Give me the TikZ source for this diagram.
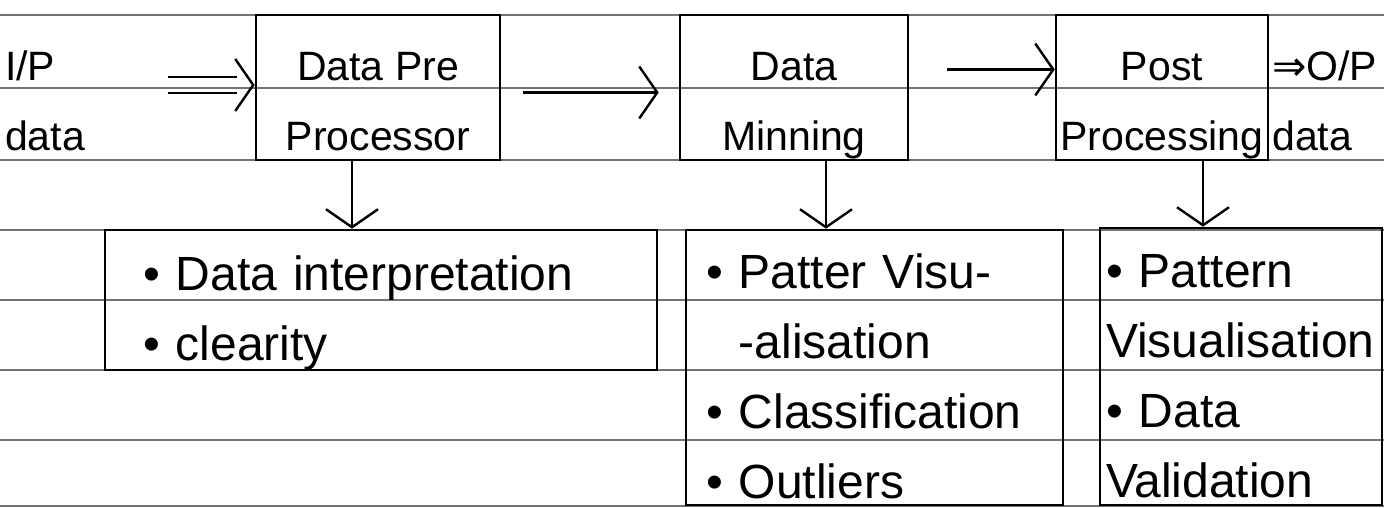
\documentclass[tikz,border=0pt]{standalone}
\usepackage{fontspec}
\setmainfont{Liberation Sans}
\newfontfamily\arrowfont{DejaVu Sans}
\usetikzlibrary{arrows.meta,positioning}

\newcommand\lift[1]{\rule{0pt}{#1}}
\newcommand\sink[1]{\rule[-#1]{0pt}{#1}}
\hyphenpenalty=10000

\begin{document}
\begin{tikzpicture}[x=1pt,y=-1pt,
  every node/.style={font=\fontsize{48}{70}\selectfont},
  toprow/.style={font=\fontsize{41}{70}\selectfont},
  stage/.style={toprow,draw,line width=2.6pt,minimum height=145pt,inner sep=0pt,align=center},
  notes/.style={draw,line width=2.6pt,inner ysep=0pt,align=left},
  flow/.style={line width=2.4pt,-{Straight Barb[length=18pt,width=52pt,line width=2.4pt]}},
  rule/.style={black!55,line width=1.2pt}]

  \useasboundingbox (0,0) rectangle (1384,508);

  % ruled paper
  \foreach \y in {15,88,160,230,300,370,440,506}
    \draw[rule] (0,\y) -- (1384,\y);

  % top row
  \node[toprow,align=left,anchor=west,inner sep=0pt] (ip) at (5,87.5) {\lift{65pt}I/P\\data\sink{10pt}};
  \node[stage,minimum width=244pt] (pre) at (378,87.5) {\lift{65pt}Data Pre\\Processor\sink{10pt}};
  \node[stage,minimum width=228pt] (mine) at (794,87.5) {\lift{65pt}Data\\Minning\sink{10pt}};
  \node[stage,minimum width=212pt] (post) at (1162,87.5) {\lift{65pt}Post\\Processing\sink{10pt}};
  \node[toprow,align=left,anchor=west,inner sep=0pt] (op) at (1272,87.5) {\lift{65pt}{\arrowfont ⇒}O/P\\data\sink{10pt}};

  % bottom row
  \node[notes,minimum width=552pt,minimum height=140pt,inner xsep=38pt,text width=476pt]
    (prenotes) at (381,300) {\lift{60pt}\textbullet\ Data interpretation\\\textbullet\ clearity\sink{10pt}};
  \node[notes,minimum width=377pt,minimum height=275pt,inner xsep=20pt,text width=337pt]
    (minenotes) at (874.5,367.5) {\lift{58pt}\textbullet\ Patter Visu-\\\phantom{\textbullet\ }-alisation\\\textbullet\ Classification\\\textbullet\ Outliers\sink{7pt}};
  \node[notes,minimum width=282pt,minimum height=277pt,inner xsep=6pt,text width=270pt]
    (postnotes) at (1241,366.5) {\lift{58pt}\textbullet\ Pattern\\Visualisation\\\textbullet\ Data\\Validation\sink{7pt}};

  % input arrow
  \coordinate (ipout) at (168,85);
  \draw[line width=2.4pt] ([yshift=8pt]ipout) -- ([yshift=8pt,xshift=-18pt]pre.west |- ipout)
    ([yshift=-8pt]ipout) -- ([yshift=-8pt,xshift=-18pt]pre.west |- ipout);
  \draw[flow] ([xshift=-2pt]pre.west |- ipout) -- (pre.west |- ipout);

  % flow between stages
  \draw[flow,shorten <=22pt,shorten >=20pt] ([yshift=-5pt]pre.east) -- ([yshift=-5pt]mine.west);
  \draw[flow,shorten <=38pt] ([yshift=18pt]mine.east) -- ([yshift=18pt]post.west);

  % down to the notes
  \draw[flow] ([xshift=-26pt]pre.south) -- ([xshift=-26pt]pre.south |- prenotes.north);
  \draw[flow] ([xshift=32pt]mine.south) -- ([xshift=32pt]mine.south |- minenotes.north);
  \draw[flow] ([xshift=41pt]post.south) -- ([xshift=41pt]post.south |- postnotes.north);
\end{tikzpicture}
\end{document}
